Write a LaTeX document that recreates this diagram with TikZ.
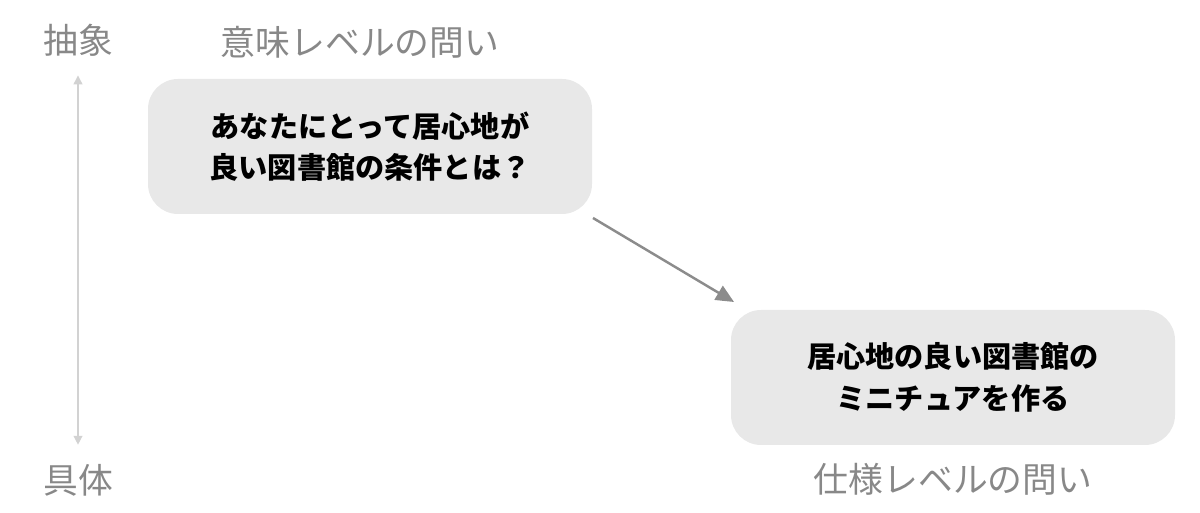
\documentclass[tikz,border=0pt]{standalone}
\usepackage{fontspec}
\usepackage{xcolor}
\newfontfamily\jp{Noto Sans CJK JP}
\usetikzlibrary{arrows.meta}
\definecolor{boxgray}{HTML}{E8E8E8}
\definecolor{labelgray}{HTML}{888888}
\definecolor{arrowgray}{HTML}{8C8C8C}
\definecolor{axisgray}{HTML}{D2D2D2}
\tikzset{
  qbox/.style={fill=boxgray, rounded corners=0.6cm, minimum width=8.88cm, minimum height=2.7cm,
    align=center, font=\jp\bfseries\fontsize{16.6}{23.5}\selectfont, text=black},
  axislabel/.style={font=\jp\fontsize{19.8}{22}\selectfont, text=labelgray, inner sep=0pt}
}
\begin{document}
\begin{tikzpicture}

\useasboundingbox (0,0) rectangle (24,10.26);

\node[axislabel] (abst) at (1.56,9.46) {抽象};
\node[axislabel] (conc) at (1.56,0.66) {具体};
\node[axislabel] (meaning) at (7.2,9.42) {意味レベルの問い};
\node[axislabel] (spec) at (19.06,0.68) {仕様レベルの問い};

\node[qbox] (q1) at (7.4,7.33) {あなたにとって居心地が\\良い図書館の条件とは？};
\node[qbox] (q2) at (19.06,2.71) {居心地の良い図書館の\\ミニチュアを作る};

\draw [axisgray, line width=0.7pt, {Triangle[length=5pt,width=5pt]}-{Triangle[length=5pt,width=5pt]}, shorten <=0.38cm, shorten >=0.38cm] (abst) -- (conc);

\coordinate (from) at (11.86,5.9);
\coordinate (to) at (14.68,4.22);
\draw [arrowgray, line width=1.4pt, -{Triangle[length=0.36cm,width=0.32cm]}] (from) -- (to);

\end{tikzpicture}
\end{document}
